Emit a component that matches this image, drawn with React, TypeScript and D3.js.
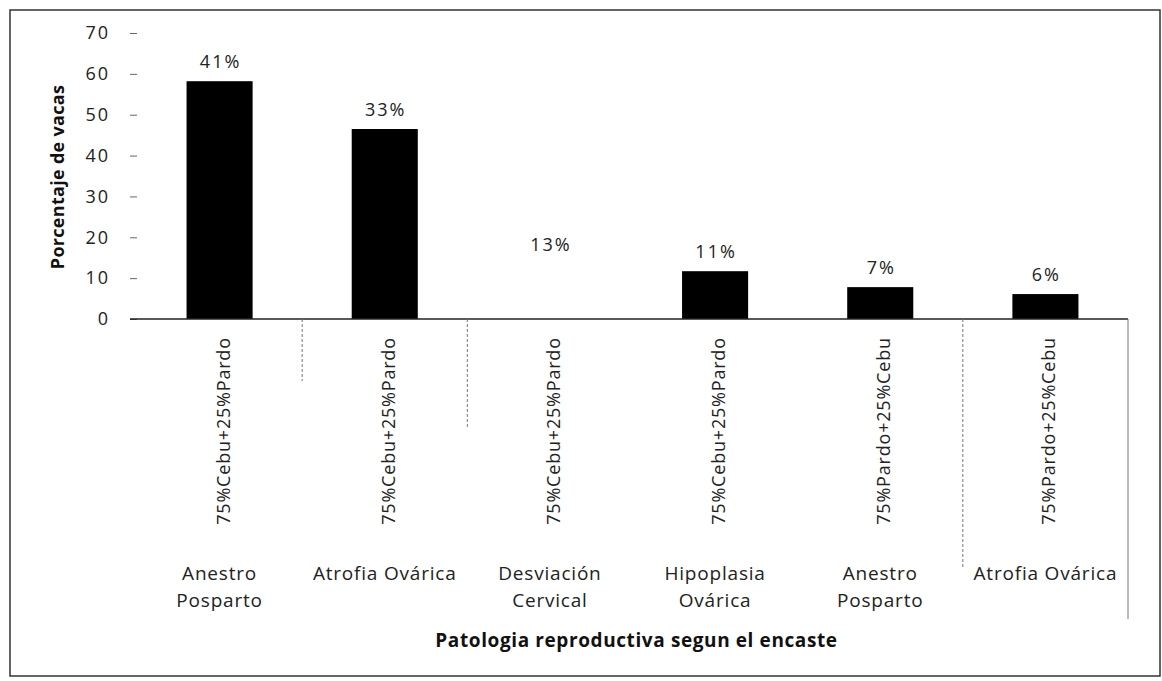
import React, { useRef, useEffect } from 'react';
import * as d3 from 'd3';

// categories (outer level = patologia, inner level = encaste)
const patologias = ['Anestro\nPosparto', 'Atrofia Ovárica', 'Desviación\nCervical', 'Hipoplasia\nOvárica', 'Anestro\nPosparto', 'Atrofia Ovárica'];
const encastes = ['75%Cebu+25%Pardo', '75%Cebu+25%Pardo', '75%Cebu+25%Pardo', '75%Cebu+25%Pardo', '75%Pardo+25%Cebu', '75%Pardo+25%Cebu'];
const valores = [58.2, 46.5, 13.4, 11.7, 7.8, 6.1];
const etiquetas = ['41%', '33%', '13%', '11%', '7%', '6%'];
const yTicks = [0, 10, 20, 30, 40, 50, 60, 70];

function App() {
  const svgRef = useRef<SVGSVGElement>(null);

  useEffect(() => {
    const W = 1162;
    const H = 681;
    const margin = { top: 33, right: 28, bottom: 362, left: 137 };
    const font = '"Open Sans", "Noto Sans", sans-serif';

    const svg = d3.select(svgRef.current)
      .attr('width', W)
      .attr('height', H)
      .style('background', '#fff');
    svg.selectAll('*').remove();

    // outer frame
    svg.append('rect')
      .attr('x', 10).attr('y', 10)
      .attr('width', 1150).attr('height', 666)
      .attr('fill', 'none')
      .attr('stroke', '#333')
      .attr('stroke-width', 1.5);

    const ids = valores.map((_, i) => String(i));

    const x = d3.scaleBand()
      .domain(ids)
      .range([margin.left, W - margin.right - 6])
      .paddingInner(0.6)
      .paddingOuter(0.3);

    const y = d3.scaleLinear()
      .domain([0, 70])
      .range([H - margin.bottom, margin.top]);

    const y0 = y(0);

    // y axis: ticks and labels, no line
    const yAxis = svg.append('g')
      .attr('transform', `translate(${margin.left},0)`)
      .call(d3.axisLeft(y).tickValues(yTicks).tickSize(7).tickPadding(20));
    yAxis.select('.domain').remove();
    yAxis.selectAll('line').attr('stroke', '#666');
    yAxis.selectAll('text')
      .attr('font-family', font)
      .attr('font-size', 18)
      .attr('letter-spacing', 2)
      .attr('fill', '#222');

    // bars (the Desviación Cervical bar is not visible in the source)
    svg.selectAll('.bar')
      .data(valores)
      .enter()
      .append('rect')
      .attr('class', 'bar')
      .attr('x', (_, i) => x(String(i))!)
      .attr('y', d => y(d))
      .attr('width', x.bandwidth())
      .attr('height', d => y0 - y(d))
      .attr('fill', (_, i) => (i === 2 ? 'none' : '#000'));

    // value labels
    svg.selectAll('.lbl')
      .data(valores)
      .enter()
      .append('text')
      .attr('class', 'lbl')
      .attr('x', (_, i) => x(String(i))! + x.bandwidth() / 2 + 1)
      .attr('y', d => y(d) - 13)
      .attr('text-anchor', 'middle')
      .attr('font-family', font)
      .attr('font-size', 18)
      .attr('letter-spacing', 2)
      .attr('fill', '#222')
      .text((_, i) => etiquetas[i]);

    // baseline
    const xEnd = x.range()[1];
    svg.append('line')
      .attr('x1', margin.left - 7).attr('x2', xEnd)
      .attr('y1', y0).attr('y2', y0)
      .attr('stroke', '#222').attr('stroke-width', 1.5);

    // category separators (only the ones that survive in the scan)
    const step = x.step();
    const x0 = x.range()[0];
    const seps = [
      { k: 1, len: 62 },
      { k: 2, len: 110 },
      { k: 5, len: 250 },
      { k: 6, len: 300 },
    ];
    svg.selectAll('.sep')
      .data(seps)
      .enter()
      .append('line')
      .attr('class', 'sep')
      .attr('x1', d => x0 + d.k * step)
      .attr('x2', d => x0 + d.k * step)
      .attr('y1', y0)
      .attr('y2', d => y0 + d.len)
      .attr('stroke', '#777')
      .attr('stroke-width', 1)
      .attr('stroke-dasharray', d => (d.k === 6 ? null : '3,2'));

    // inner labels (rotated)
    svg.selectAll('.enc')
      .data(encastes)
      .enter()
      .append('text')
      .attr('class', 'enc')
      .attr('transform', (_, i) => `translate(${x(String(i))! + x.bandwidth() / 2 + 10},431) rotate(-90)`)
      .attr('text-anchor', 'middle')
      .attr('font-family', font)
      .attr('font-size', 18)
      .attr('letter-spacing', 0.8)
      .attr('fill', '#222')
      .text(d => d);

    // outer labels
    const pat = svg.selectAll('.pat')
      .data(patologias)
      .enter()
      .append('text')
      .attr('class', 'pat')
      .attr('x', (_, i) => x(String(i))! + x.bandwidth() / 2)
      .attr('y', 580)
      .attr('text-anchor', 'middle')
      .attr('font-family', font)
      .attr('font-size', 19)
      .attr('letter-spacing', 0.8)
      .attr('fill', '#222');
    pat.each(function (d) {
      const lines = d.split('\n');
      d3.select(this).selectAll('tspan')
        .data(lines)
        .enter()
        .append('tspan')
        .attr('x', d3.select(this).attr('x'))
        .attr('dy', (_, j) => (j === 0 ? 0 : 27))
        .text(l => l);
    });

    // axis titles
    svg.append('text')
      .attr('x', (x0 + xEnd) / 2 + 4)
      .attr('y', 647)
      .attr('text-anchor', 'middle')
      .attr('font-family', font)
      .attr('font-size', 19)
      .attr('font-weight', 'bold')
      .attr('letter-spacing', 0.6)
      .attr('fill', '#111')
      .text('Patologia reproductiva segun el encaste');

    svg.append('text')
      .attr('transform', `translate(64,177) rotate(-90)`)
      .attr('text-anchor', 'middle')
      .attr('font-family', font)
      .attr('font-size', 18)
      .attr('font-weight', 'bold')
      .attr('letter-spacing', 0.3)
      .attr('fill', '#111')
      .text('Porcentaje de vacas');
  }, []);

  return (
    <svg ref={svgRef} style={{ position: 'absolute', left: 0, top: 0, display: 'block' }}></svg>
  );
}

export default App;
